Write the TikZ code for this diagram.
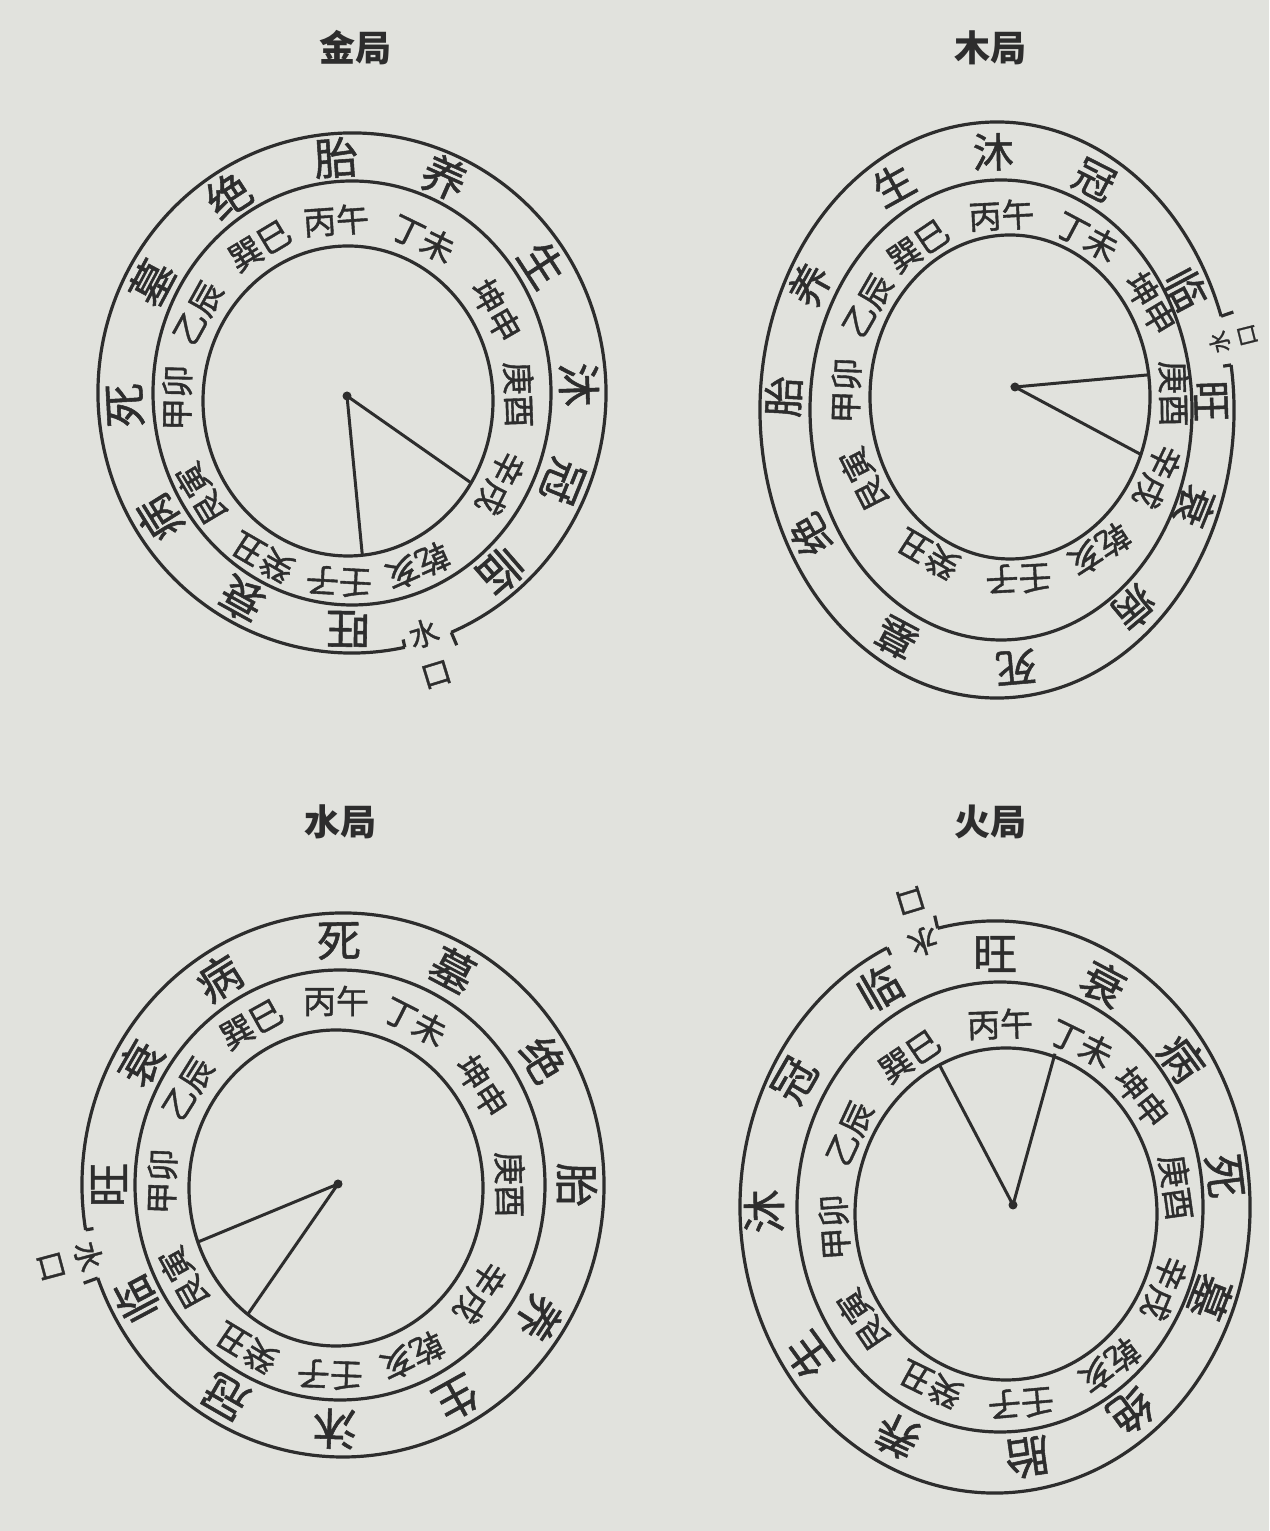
\documentclass[tikz,border=0pt]{standalone}
\usepackage{fontspec}
\newfontfamily\cjk{Noto Sans CJK SC}
\newfontfamily\cjkb{Noto Sans CJK SC}[FakeBold=1.2]
\definecolor{ink}{RGB}{45,45,45}
\definecolor{paper}{RGB}{225,226,221}
\tikzset{
  ring/.style={draw=ink, line width=1.6pt},
  spoke/.style={draw=ink, line width=1.5pt},
  hub/.style={circle, fill=ink, inner sep=0pt, minimum size=4.5pt},
  stage/.style={font=\cjkb\fontsize{22}{22}\selectfont, text=ink, inner sep=0pt},
  pair/.style={font=\cjkb\fontsize{16.5}{16.5}\selectfont, text=ink, inner sep=0pt},
  title/.style={font=\cjk\bfseries\fontsize{18}{18}\selectfont, text=ink},
  mouth/.style={font=\cjkb\fontsize{15}{21}\selectfont, text=ink, align=center, inner sep=0pt},
}
\begin{document}
\begin{tikzpicture}[x=0.5pt, y=0.5pt]
  \fill[paper] (0,0) rectangle (1269,1531);
  \useasboundingbox (0,0) rectangle (1269,1531);

  % 金局
  \begin{scope}[shift={(352,1138)}]
    \node[title] (jin-t) at (3,345) {金局};
    \draw[ring] (0,0) ellipse [x radius=199, y radius=212];
    \draw[ring] (-78:254 and 260) arc [start angle=-78, end angle=-427, x radius=254, y radius=260];
    \draw[ring] (-67:254 and 260) -- (-67:268 and 274);
    \draw[ring] (-78:254 and 260) -- (-78:246 and 252);
    \node[mouth, rotate=17] (jin-m) at (-73:266 and 272) {水\\口};
    \foreach \a/\t [count=\i] in {94/胎, 66/养, 33/生, 2/沐, -22/冠, -49/临, -91/旺, -119/衰, -148/病, -177/死, 152/墓, 123/绝}
      \node[stage, rotate=\a-90] (jin-s\i) at (\a:227 and 236) {\t};
    \begin{scope}[shift={(-4,-8)}]
      \draw[ring] (0,0) ellipse [x radius=145, y radius=155];
      \foreach \a/\t [count=\i] in {94/丙午, 64/丁未, 30/坤申, 2/庚酉, -27/辛戌, -66/乾亥, -93/壬子, -120/癸丑, -149/艮寅, 179/甲卯, 151/乙辰, 121/巽巳}
        \node[pair, rotate=\a-90] (jin-p\i) at (\a:171 and 181) {\t};
      \node[hub] (jin-o) at (-1,5) {};
      \path (jin-o.center) ++(-35:152) coordinate (jin-a);
      \path (jin-o.center) ++(-84.5:160) coordinate (jin-b);
      \draw[spoke] (jin-a) -- (jin-o.center) -- (jin-b);
    \end{scope}
  \end{scope}

  % 木局
  \begin{scope}[shift={(997,1121)}]
    \node[title] (mu-t) at (-7,362) {木局};
    \draw[ring] (4,0) ellipse [x radius=191, y radius=230];
    \draw[ring] (9:237 and 288) arc [start angle=9, end angle=-341, x radius=237, y radius=288];
    \draw[ring] (19:237 and 288) -- (19:250 and 301);
    \draw[ring] (9:237 and 288) -- (9:229 and 280);
    \node[mouth, font=\cjkb\fontsize{11}{14}\selectfont, rotate=104] (mu-m) at (14:243 and 294) {水\\口};
    \foreach \a/\t [count=\i] in {119/生, 91/沐, 63/冠, 28/临, 2/旺, -22/衰, -50/病, -85/死, -118/墓, -151/绝, 177/胎, 151/养}
      \node[stage, font=\cjkb\fontsize{20.5}{20.5}\selectfont, rotate=\a-90] (mu-s\i) at (\a:214 and 258) {\t};
    \begin{scope}[shift={(13,13)}]
      \draw[ring] (0,0) ellipse [x radius=140, y radius=162];
      \foreach \a/\t [count=\i] in {93/丙午, 62/丁未, 31/坤申, 1/庚酉, -26/辛戌, -57/乾亥, -87/壬子, -120/癸丑, -153/艮寅, 178/甲卯, 150/乙辰, 124/巽巳}
        \node[pair, rotate=\a-90] (mu-p\i) at (\a:164 and 182) {\t};
      \node[hub] (mu-o) at (5,10) {};
      \path (mu-o.center) ++(5.2:134.5) coordinate (mu-a);
      \path (mu-o.center) ++(-28.2:143) coordinate (mu-b);
      \draw[spoke] (mu-a) -- (mu-o.center) -- (mu-b);
    \end{scope}
  \end{scope}

  % 水局
  \begin{scope}[shift={(343,346)}]
    \node[title] (shui-t) at (-3,363) {水局};
    \draw[ring] (-3,0) ellipse [x radius=205, y radius=215];
    \draw[ring] (-170.5:261 and 272) arc [start angle=-170.5, end angle=-520, x radius=261, y radius=272];
    \draw[ring] (-160:261 and 272) -- (-160:276 and 287);
    \draw[ring] (-170.5:261 and 272) -- (-170.5:253 and 264);
    \node[mouth, font=\cjkb\fontsize{15}{19}\selectfont, rotate=-75] (shui-m) at (-165:282 and 294) {水\\口};
    \foreach \a/\t [count=\i] in {91/死, 62/墓, 31/绝, 0/胎, -33/养, -61/生, -92/沐, -120/冠, -152/临, 180/旺, 150/衰, 122/病}
      \node[stage, rotate=\a-90] (shui-s\i) at (\a:234 and 244) {\t};
    \begin{scope}[shift={(-7,-3)}]
      \draw[ring] (0,0) ellipse [x radius=147, y radius=158];
      \foreach \a/\t [count=\i] in {90/丙午, 63/丁未, 33/坤申, 1/庚酉, -34/辛戌, -64/乾亥, -92/壬子, -121/癸丑, -151/艮寅, 178/甲卯, 148/乙辰, 119/巽巳}
        \node[pair, rotate=\a-90] (shui-p\i) at (\a:174 and 187) {\t};
      \node[hub] (shui-o) at (2,4) {};
      \path (shui-o.center) ++(-157.5:151) coordinate (shui-a);
      \path (shui-o.center) ++(-124.7:159) coordinate (shui-b);
      \draw[spoke] (shui-a) -- (shui-o.center) -- (shui-b);
    \end{scope}
  \end{scope}

  % 火局
  \begin{scope}[shift={(995,324)}]
    \node[title] (huo-t) at (-5,385) {火局};
    \draw[ring] (5,0) ellipse [x radius=203, y radius=225];
    \draw[ring] (103:255 and 286) arc [start angle=103, end angle=-245, x radius=255, y radius=286];
    \draw[ring] (103:255 and 286) -- (103:268 and 299);
    \draw[ring] (115:255 and 286) -- (115:247 and 278);
    \node[mouth, rotate=197] (huo-m) at (107:267 and 298) {水\\口};
    \foreach \a/\t [count=\i] in {90/旺, 62/衰, 36/病, 7/死, -21/墓, -54/绝, -82/胎, -115/养, -144/生, -179/沐, 150/冠, 120/临}
      \node[stage, rotate=\a-90] (huo-s\i) at (\a:231 and 253) {\t};
    \begin{scope}[shift={(11,-7)}]
      \draw[ring] (0,0) ellipse [x radius=151, y radius=166];
      \foreach \a/\t [count=\i] in {92/丙午, 64/丁未, 38/坤申, 8/庚酉, -23/辛戌, -53/乾亥, -85/壬子, -116/癸丑, -146/艮寅, -176/甲卯, 155/乙辰, 124/巽巳}
        \node[pair, rotate=\a-90] (huo-p\i) at (\a:172 and 190) {\t};
      \node[hub] (huo-o) at (7,9) {};
      \path (huo-o.center) ++(117.7:157) coordinate (huo-a);
      \path (huo-o.center) ++(74.5:157) coordinate (huo-b);
      \draw[spoke] (huo-a) -- (huo-o.center) -- (huo-b);
    \end{scope}
  \end{scope}
\end{tikzpicture}
\end{document}
